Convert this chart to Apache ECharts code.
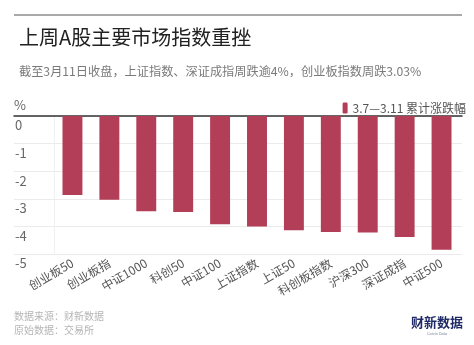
<!DOCTYPE html>
<html>
<head>
<meta charset="utf-8">
<script src="https://cdn.jsdelivr.net/npm/echarts@6/dist/echarts.min.js"></script>
<style>
  html, body { margin: 0; padding: 0; background: #fff; }
  #chart { width: 474px; height: 345px; }
</style>
</head>
<body>
<div id="chart"></div>
<script>
// Weekly change of major A-share indices, 3.7–3.11
const categories = ['创业板50', '创业板指', '中证1000', '科创50', '中证100', '上证指数', '上证50', '科创板指数', '沪深300', '深证成指', '中证500'];
const weeklyChange = [-2.86, -3.03, -3.45, -3.48, -3.92, -4.00, -4.14, -4.20, -4.22, -4.38, -4.85];
const yTicks = [0, -1, -2, -3, -4, -5];
const seriesName = '3.7—3.11 累计涨跌幅';

const FONT = '"Noto Sans CJK SC", "Noto Sans", sans-serif';
const BAR = '#b23e57';

const chart = echarts.init(document.getElementById('chart'), null, { renderer: 'canvas' });

chart.setOption({
  backgroundColor: '#fff',
  animation: false,
  textStyle: { fontFamily: FONT },
  title: [
    { text: '上周A股主要市场指数重挫', left: 14, top: 22,
      textStyle: { fontSize: 20, fontWeight: 'normal', color: '#222', fontFamily: FONT } },
    { text: '截至3月11日收盘，上证指数、深证成指周跌逾4%，创业板指数周跌3.03%', left: 14, top: 60,
      textStyle: { fontSize: 12.2, fontWeight: 'normal', color: '#7a7a7a', fontFamily: FONT } }
  ],
  legend: {
    data: [seriesName], right: 3, top: 97, itemWidth: 5, itemHeight: 11, itemGap: 4,
    textStyle: { fontSize: 12, color: '#555', fontFamily: FONT }
  },
  grid: [
    { left: 14, right: 12, top: 116, bottom: 91 },
    { left: 54, right: 14, top: 116, bottom: 91 }
  ],
  xAxis: [
    { gridIndex: 0, type: 'value', min: 0, max: 1,
      axisLine: { show: true, lineStyle: { color: '#333', width: 1.5 } },
      axisTick: { show: false }, axisLabel: { show: false }, splitLine: { show: false } },
    { gridIndex: 1, type: 'category', data: categories,
      axisLine: { show: false },
      axisTick: { show: true, alignWithLabel: true, length: 3, lineStyle: { color: '#333' } },
      axisLabel: { rotate: 30, fontSize: 12, color: '#555', margin: 8, interval: 0, fontFamily: FONT } }
  ],
  yAxis: [
    { gridIndex: 0, type: 'value', min: -5, max: 0, interval: 1,
      name: '%', nameLocation: 'end', nameGap: 4,
      nameTextStyle: { align: 'left', color: '#666', fontSize: 13, padding: [0, 0, 0, 0] },
      axisLine: { show: false }, axisTick: { show: false },
      axisLabel: {
        color: '#666', fontSize: 13, align: 'left', verticalAlign: 'top', margin: -1,
        padding: [3, 0, 0, 0],
        formatter: v => (yTicks.indexOf(v) >= 0 ? String(v) : '')
      },
      splitLine: { show: true, lineStyle: { color: '#ebebeb', width: 1 } } },
    { gridIndex: 1, type: 'value', min: -5, max: 0, interval: 1,
      axisLine: { show: true, lineStyle: { color: '#f0f0f0' } },
      axisTick: { show: false }, axisLabel: { show: false }, splitLine: { show: false } }
  ],
  series: [
    { name: seriesName, type: 'bar', xAxisIndex: 1, yAxisIndex: 1,
      data: weeklyChange, barWidth: '54%',
      itemStyle: { color: BAR } }
  ],
  graphic: [
    { type: 'line', shape: { x1: 14, y1: 15, x2: 462, y2: 15 },
      style: { stroke: '#555', lineWidth: 1.2 } },
    { type: 'text', left: 14, top: 311,
      style: { text: '数据来源：财新数据', fontSize: 10, fill: '#b5b5b5', fontFamily: FONT } },
    { type: 'text', left: 14, top: 325,
      style: { text: '原始数据：交易所', fontSize: 10, fill: '#b5b5b5', fontFamily: FONT } },
    { type: 'text', left: 411, top: 316,
      style: { text: '财新数据', fontSize: 13, fontWeight: 'bold', fill: '#1f2a66', fontFamily: FONT } },
    { type: 'text', left: 427, top: 332,
      style: { text: 'Caixin Data', fontSize: 4, fill: '#8890aa', fontFamily: 'Roboto, sans-serif' } }
  ]
});
</script>
</body>
</html>
